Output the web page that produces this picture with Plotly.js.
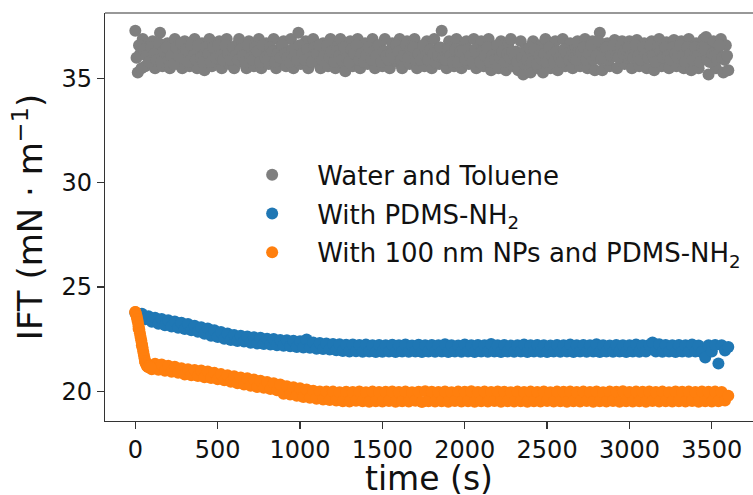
<!DOCTYPE html>
<html>
<head>
<meta charset="utf-8">
<script src="https://cdn.plot.ly/plotly-3.0.1.min.js"></script>
<style>html,body{margin:0;padding:0;background:#fff;}#chart{width:753px;height:495px;}</style>
</head>
<body>
<div id="chart"></div>
<script>
// Sampling: gray every 15 s (two interleaved sample sets), blue/orange every 20 s
var grayStart = 0, grayStartB = 7.5, grayStep = 15;
var blueStart = 0, blueStep = 20;
var orangeStart = 0, orangeStep = 20;

var seriesNames = ["Water and Toluene", "With PDMS-NH<sub>2</sub>", "With 100 nm NPs and PDMS-NH<sub>2</sub>"];
var seriesColors = ["#7f7f7f", "#1f77b4", "#ff7f0e"];
var xTitle = "time (s)";
var yTitle = "IFT (mN · m<sup>−1</sup>)";

var grayIFT = [
37.3,35.3,36.2,36.9,35.6,36.5,35.9,36.8,35.5,36.3,37.2,35.6,36.0,36.7,35.5,36.4,36.9,35.7,36.2,35.5,
36.8,36.0,35.6,36.5,36.9,35.5,36.2,36.7,35.4,36.1,36.9,35.6,36.4,35.8,36.8,35.5,36.3,36.9,35.7,36.1,
35.5,36.6,36.9,35.8,36.2,35.5,36.8,36.4,35.6,36.0,36.9,35.5,36.3,36.7,35.7,36.1,36.9,35.5,36.4,35.9,
36.8,35.6,36.2,36.9,35.5,36.5,37.2,35.7,36.1,36.8,35.5,36.3,36.9,35.8,36.0,35.5,36.7,36.4,35.6,36.9,
36.1,35.5,36.6,36.9,35.8,35.35,36.3,36.8,35.6,36.0,36.9,35.5,36.4,36.7,35.7,36.2,36.9,35.5,36.0,36.6,
35.6,36.9,36.3,35.5,36.7,36.1,35.8,36.9,35.5,36.4,36.8,35.7,36.0,36.9,35.5,36.5,36.2,35.6,36.8,36.0,
35.5,36.9,36.4,35.7,37.3,36.1,35.5,36.8,36.3,35.6,36.9,36.0,35.5,36.6,36.8,35.7,36.2,36.9,35.5,36.4,
36.8,35.6,36.0,36.9,35.4,36.5,36.2,35.5,36.8,36.1,35.4,36.7,36.9,35.6,36.3,35.4,36.8,35.2,36.4,36.0,
35.3,36.8,36.2,35.5,36.6,35.3,36.9,36.0,35.5,36.5,36.8,35.4,36.2,36.9,35.6,36.1,36.7,35.5,36.4,36.8,
35.6,36.0,36.9,35.5,36.3,36.8,35.4,36.5,37.2,35.4,36.1,36.7,35.6,36.4,36.85,35.5,36.2,36.8,35.7,36.0,
36.8,35.5,36.3,36.85,35.6,36.1,36.7,35.5,36.4,36.8,35.4,36.0,36.9,35.6,36.3,36.75,35.5,36.1,36.85,35.6,
36.4,36.8,35.5,36.0,36.9,35.4,36.3,36.7,35.5,36.1,36.9,37.0,35.2,36.5,36.8,35.5,36.2,36.9,35.3,36.6,
35.4
];

var grayIFT_B = [
36.0,36.6,35.5,36.4,36.1,35.8,36.5,36.2,35.9,36.7,35.8,36.3,36.5,35.9,36.1,35.7,36.5,36.1,36.7,36.0,
36.4,35.8,36.6,36.1,35.9,36.6,36.0,35.8,36.5,36.2,35.8,36.5,36.0,36.6,36.1,35.9,36.6,36.2,35.9,36.5,
36.1,35.9,36.4,36.1,35.8,36.6,36.0,35.9,36.5,36.3,35.8,36.6,36.0,35.9,36.5,36.3,35.8,36.2,36.0,36.6,
36.2,36.0,35.8,36.4,36.1,35.9,36.6,36.2,35.9,36.4,36.0,35.8,36.5,36.2,36.6,35.9,36.1,36.6,36.0,36.3,
35.8,36.3,36.1,35.9,36.5,36.0,35.8,36.4,36.2,36.6,35.9,36.2,35.8,36.1,36.5,35.9,36.3,36.1,36.6,35.8,
36.3,36.1,35.9,36.2,36.0,36.6,36.3,35.9,36.1,36.6,36.0,36.4,36.5,35.9,36.2,35.9,36.6,36.1,35.9,36.4,
36.2,35.8,36.1,36.5,36.0,35.9,36.4,36.1,35.8,36.4,35.8,36.3,36.2,35.9,36.4,36.1,35.8,36.4,36.2,35.8,
36.3,36.1,36.5,35.8,36.1,35.9,36.6,36.0,36.3,35.8,36.2,36.0,36.3,36.1,35.8,36.2,36.0,35.7,35.9,36.5,
35.8,36.4,35.7,36.1,35.9,36.2,35.8,36.5,36.1,35.8,36.3,36.0,35.8,36.4,36.2,35.9,36.1,36.0,35.9,36.3,
36.3,36.5,35.9,36.2,36.6,35.9,36.1,36.8,35.9,36.0,36.5,35.9,36.1,36.6,36.1,36.0,36.5,36.2,36.4,36.5,
36.1,36.0,36.6,36.1,35.9,36.5,36.2,36.0,36.6,36.1,35.8,36.5,36.3,36.0,36.5,36.1,35.9,36.5,36.2,36.0,
36.6,36.1,35.8,36.5,36.2,35.9,36.5,36.1,35.8,36.5,36.4,35.9,35.8,36.2,36.1,35.9,36.6,36.0,35.9,36.1
];

var blueIFT = [
23.75,23.62,23.72,23.45,23.6,23.33,23.52,23.24,23.46,23.17,23.4,23.1,23.35,23.05,23.28,
22.98,23.22,22.92,23.14,22.85,23.07,22.76,23.01,22.66,22.92,22.6,22.84,22.52,22.77,22.46,
22.7,22.41,22.66,22.38,22.62,22.32,22.59,22.29,22.56,22.27,22.52,22.24,22.5,22.21,22.46,
22.18,22.44,22.16,22.42,22.12,22.4,22.1,22.48,22.08,22.34,22.04,22.31,22.02,22.29,22.0,
22.27,21.96,22.25,21.93,22.23,21.9,22.24,21.92,22.22,21.89,22.24,21.91,22.21,21.88,22.22,
21.89,22.21,21.9,22.23,21.88,22.2,21.91,22.24,21.89,22.19,21.9,22.23,21.88,22.21,21.91,
22.22,21.89,22.2,21.9,22.25,21.88,22.21,21.91,22.19,21.89,22.24,21.9,22.2,21.88,22.22,
21.9,22.21,21.89,22.27,21.91,22.2,21.88,22.22,21.9,22.19,21.89,22.21,21.91,22.24,21.88,
22.2,21.9,22.22,21.89,22.21,21.88,22.19,21.91,22.22,21.89,22.2,21.9,22.24,21.88,22.21,
21.9,22.22,21.89,22.2,21.91,22.25,21.88,22.21,21.9,22.19,21.89,22.22,21.91,22.21,21.88,
22.2,21.9,22.24,21.89,22.21,21.91,22.22,22.34,21.9,22.25,21.89,22.22,21.91,22.21,21.88,
22.22,21.9,22.2,21.89,22.24,21.91,22.19,21.88,21.62,22.21,21.9,22.22,21.33,22.2,21.95,
22.12
];

var orangeIFT = [
23.8,23.0,22.2,21.4,21.25,21.05,21.32,21.03,21.28,20.98,21.22,20.93,21.17,20.88,21.1,
20.8,21.05,20.77,21.02,20.73,20.99,20.67,20.94,20.63,20.88,20.57,20.82,20.52,20.77,20.45,
20.72,20.38,20.66,20.32,20.62,20.26,20.56,20.2,20.5,20.16,20.44,20.1,20.38,20.04,20.32,
19.88,20.24,19.84,20.19,19.78,20.14,19.72,20.08,19.68,20.02,19.64,19.99,19.6,19.98,19.58,
19.98,19.55,19.95,19.52,19.97,19.5,19.96,19.54,19.99,19.52,19.95,19.49,19.98,19.52,19.96,
19.5,19.97,19.53,19.99,19.49,19.96,19.52,19.98,19.5,19.95,19.54,19.97,19.48,20.0,19.52,
19.97,19.5,19.96,19.52,19.99,19.49,19.95,19.53,19.98,19.5,19.97,19.52,20.0,19.49,19.96,
19.52,19.98,19.5,19.96,19.53,19.99,19.49,19.97,19.52,19.95,19.5,19.98,19.52,19.96,19.49,
19.98,19.52,19.96,19.5,19.99,19.53,19.95,19.5,19.98,19.52,19.97,19.49,19.99,19.52,19.96,
19.5,19.98,19.53,19.96,19.49,19.99,19.52,19.95,19.5,19.98,19.53,19.97,19.49,20.0,19.52,
19.96,19.5,19.98,19.52,19.97,19.49,19.99,19.53,19.96,19.5,19.98,19.52,19.95,19.5,19.99,
19.52,19.97,19.5,19.98,19.53,19.96,19.49,19.99,19.52,19.97,19.5,19.98,19.52,19.96,19.55,
19.78
];

// dense readings of the initial steep drop of the orange curve
var orangeEarlyTime = [0,4,8,12,16,20,24,28,32,36,40,44,48,52,56,60,64,68,72,76,80,86,92];
var orangeEarlyIFT  = [23.8,23.7,23.6,23.44,23.3,23.12,22.96,22.78,22.6,22.44,22.26,22.08,21.9,21.74,21.58,21.44,21.34,21.26,21.2,21.17,21.15,21.2,21.14];

var xTicks = [0,500,1000,1500,2000,2500,3000,3500];
var yTicks = [20,25,30,35];

var FONT = "DejaVu Sans, Verdana, sans-serif";
var MS = 12;

function mk(c){ return {size:MS, color:c, line:{width:0}}; }

var traces = [
  {type:"scatter", mode:"markers", name:seriesNames[0], legendgroup:"g", x0:grayStart, dx:grayStep, y:grayIFT,
   marker:mk(seriesColors[0]), hoverinfo:"skip"},
  {type:"scatter", mode:"markers", name:seriesNames[0], legendgroup:"g", showlegend:false, x0:grayStartB, dx:grayStep, y:grayIFT_B,
   marker:mk(seriesColors[0]), hoverinfo:"skip"},
  {type:"scatter", mode:"markers", name:seriesNames[1], legendgroup:"b", x0:blueStart, dx:blueStep, y:blueIFT,
   marker:mk(seriesColors[1]), hoverinfo:"skip"},
  {type:"scatter", mode:"markers", name:seriesNames[2], legendgroup:"o", x0:orangeStart, dx:orangeStep, y:orangeIFT,
   marker:mk(seriesColors[2]), hoverinfo:"skip"},
  {type:"scatter", mode:"markers", name:seriesNames[2], legendgroup:"o", showlegend:false, x:orangeEarlyTime, y:orangeEarlyIFT,
   marker:mk(seriesColors[2]), hoverinfo:"skip"}
];

var axisCommon = {
  showgrid:false, zeroline:false, showline:true, linecolor:"#333", linewidth:1.2,
  ticks:"outside", ticklen:7, tickwidth:1.2, tickcolor:"#333",
  tickfont:{family:FONT, size:24, color:"#111"}
};

var layout = {
  width:753, height:495,
  margin:{l:105, r:0, t:13, b:74, pad:0},
  paper_bgcolor:"#fff", plot_bgcolor:"#fff",
  showlegend:true,
  legend:{x:0.1885, y:0.661, xanchor:"left", yanchor:"top", bgcolor:"rgba(0,0,0,0)",
          font:{family:FONT, size:26, color:"#111"}, itemwidth:80, traceorder:"grouped", tracegroupgap:2},
  xaxis:Object.assign({}, axisCommon, {range:[-184, 3750], tickmode:"array", tickvals:xTicks,
          ticktext:xTicks.map(String)}),
  yaxis:Object.assign({}, axisCommon, {range:[18.57, 38.15], tickmode:"array", tickvals:yTicks,
          ticktext:yTicks.map(String),
          title:{text:yTitle, font:{family:FONT, size:34, color:"#111"}, standoff:8}}),
  annotations:[{text:xTitle, xref:"paper", yref:"paper", x:0.5, y:-0.142, xanchor:"center", yanchor:"middle",
          showarrow:false, font:{family:FONT, size:33, color:"#111"}}],
  shapes:[{type:"line", xref:"paper", yref:"paper", x0:0, x1:1, y0:1, y1:1, line:{color:"#333", width:1.2}}]
};

Plotly.newPlot("chart", traces, layout, {staticPlot:true, displayModeBar:false});
</script>
</body>
</html>
